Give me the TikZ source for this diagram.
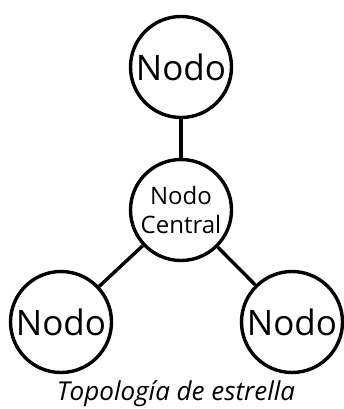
\documentclass[tikz,border=0pt]{standalone}
\usepackage{fontspec}
\setmainfont{Open Sans}
\begin{document}
\begin{tikzpicture}[x=1pt,y=-1pt,
  nodecircle/.style={circle,draw=black,line width=3.4pt,minimum size=101pt,inner sep=0pt,
    font=\fontsize{35}{40}\selectfont},
  hubcircle/.style={nodecircle,font=\fontsize{24}{29}\selectfont,align=center},
  link/.style={line width=3.4pt}]
  \useasboundingbox (0,0) rectangle (343,409);
  \node[nodecircle] (top) at (181,67) {Nodo};
  \node[hubcircle] (hub) at (181,210) {Nodo\\Central};
  \node[nodecircle] (left) at (61,322) {Nodo};
  \node[nodecircle] (right) at (292,322) {Nodo};
  \draw[link] (top) -- (hub);
  \draw[link] (hub) -- (left);
  \draw[link] (hub) -- (right);
  \node[font=\fontsize{26}{30}\selectfont\itshape,anchor=base] (caption) at (176,400) {Topología de estrella};
\end{tikzpicture}
\end{document}
